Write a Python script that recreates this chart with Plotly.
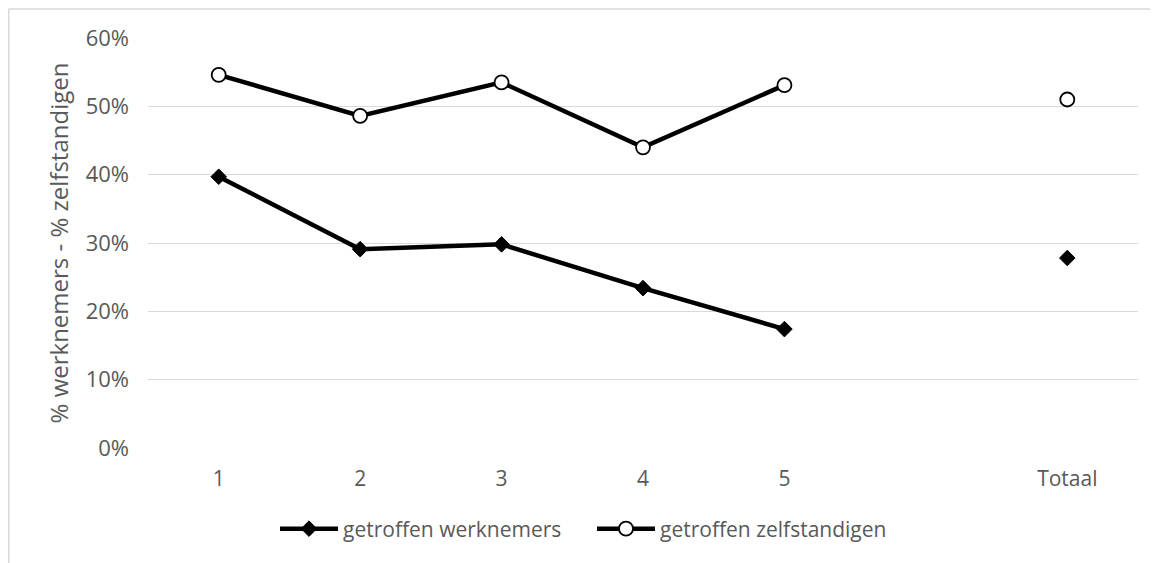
import plotly.graph_objects as go

categories = ["1", "2", "3", "4", "5", "", "Totaal"]
werknemers = [0.397, 0.291, 0.298, 0.234, 0.174, None, 0.278]
zelfstandigen = [0.546, 0.486, 0.535, 0.440, 0.531, None, 0.510]
y_ticks = [0, 0.1, 0.2, 0.3, 0.4, 0.5, 0.6]
y_tick_labels = ["0%", "10%", "20%", "30%", "40%", "50%", "60%"]

x_pos = list(range(len(categories)))
FONT = "Open Sans"
GREY = "#595959"

# page has an 8px body margin; figure is sized to compensate
W, H = 1150, 555
L, R, T, B = 140, 20, 30, 115
PW, PH = W - L - R, H - T - B

fig = go.Figure()
fig.add_trace(go.Scatter(
    x=x_pos, y=werknemers, name="getroffen werknemers", mode="lines+markers",
    line=dict(color="black", width=4.5),
    marker=dict(symbol="diamond", size=12, color="black", line=dict(color="black", width=1)),
    connectgaps=False,
))
fig.add_trace(go.Scatter(
    x=x_pos, y=zelfstandigen, name="getroffen zelfstandigen", mode="lines+markers",
    line=dict(color="black", width=4.5),
    marker=dict(symbol="circle", size=14, color="white", line=dict(color="black", width=1.8)),
    connectgaps=False,
))

fig.update_layout(
    width=W, height=H,
    margin=dict(l=L, r=R, t=T, b=B),
    paper_bgcolor="white", plot_bgcolor="white",
    font=dict(family=FONT, color=GREY, size=21),
    showlegend=True,
    legend=dict(orientation="h", xref="container", yref="container",
                x=267 / W, xanchor="left", y=1 - 521 / H, yanchor="middle",
                font=dict(family=FONT, size=21, color=GREY),
                itemwidth=58, entrywidth=244, entrywidthmode="pixels",
                tracegroupgap=0),
    xaxis=dict(range=[-0.5, 6.5], tickmode="array", tickvals=x_pos, ticktext=categories,
               showgrid=False, zeroline=False, showline=False, ticks="",
               ticklabelstandoff=16,
               tickfont=dict(size=21, color=GREY), fixedrange=True),
    yaxis=dict(range=[0, 0.6], tickmode="array", tickvals=y_ticks, ticktext=y_tick_labels,
               showgrid=True, gridcolor="#d9d9d9", gridwidth=1.3, zeroline=False,
               showline=False, ticks="", ticklabelstandoff=18,
               tickfont=dict(size=22, color=GREY),
               title=dict(text="% werknemers - % zelfstandigen", standoff=10,
                          font=dict(size=24, color=GREY)), fixedrange=True),
)

# outer chart border (top and left edges visible in the frame)
bx = (0.75 - L) / PW
by = 1 + (T - 1) / PH
fig.add_shape(type="line", xref="paper", yref="paper", x0=bx, x1=1 + R / PW, y0=by, y1=by,
              line=dict(color="#d9d9d9", width=1.5))
fig.add_shape(type="line", xref="paper", yref="paper", x0=bx, x1=bx, y0=by, y1=-B / PH,
              line=dict(color="#d9d9d9", width=1.5))

fig.write_html("out.html")
